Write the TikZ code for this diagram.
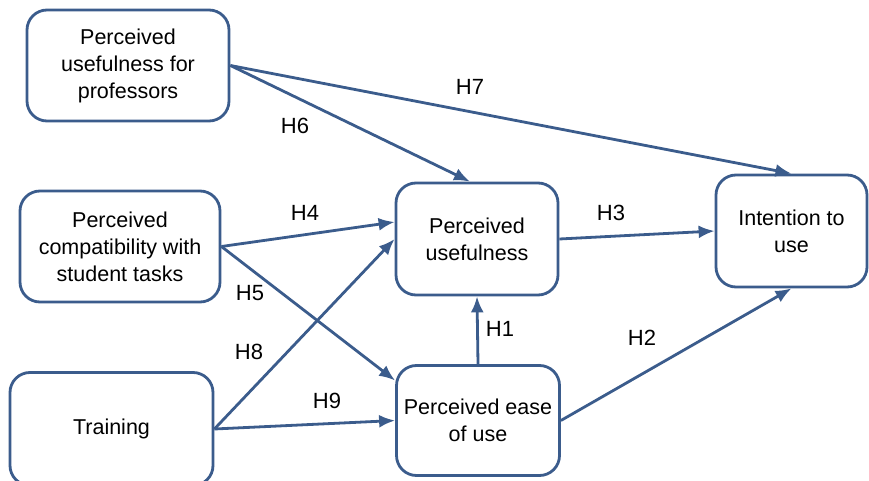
\documentclass[tikz,border=0pt]{standalone}
\usepackage{fontspec}
\setmainfont{Liberation Sans}
\usetikzlibrary{calc}
\usetikzlibrary{arrows.meta}
\definecolor{tamblue}{RGB}{59,92,140}
\tikzset{>=Latex}
\tikzstyle{arw}=[-{Latex[length=16pt,width=13pt]},draw=tamblue,line width=2.8pt]
\tikzstyle{box}=[draw=tamblue,line width=2.8pt,rounded corners=20pt,align=center,inner sep=0pt,font=\fontsize{21.5}{27}\selectfont]
\tikzstyle{lbl}=[font=\fontsize{22}{26}\selectfont]

\begin{document}
\begin{tikzpicture}[x=1pt,y=-1pt]
    \useasboundingbox (0,0) rectangle (869,481);
    \node[box,minimum width=202pt,minimum height=111pt] (prof) at (128,65.5) {Perceived\\usefulness for\\professors};
    \node[box,minimum width=200pt,minimum height=111pt] (compat) at (120,246.5) {Perceived\\compatibility with\\student tasks};
    \node[box,minimum width=203pt,minimum height=113pt] (train) at (111.5,429) {Training};
    \node[box,minimum width=162pt,minimum height=112pt] (pu) at (477,239) {Perceived\\usefulness};
    \node[box,minimum width=163pt,minimum height=110pt] (peou) at (478,420.5) {Perceived ease\\of use};
    \node[box,minimum width=151pt,minimum height=112pt] (intent) at (791.5,231) {Intention to\\use};

    \draw[arw] (prof.east) -- (intent.north);
    \draw[arw] (prof.east) -- ($(pu.north)+(-7,0)$);
    \draw[arw] (compat.east) -- ($(pu.west)+(0,-17)$);
    \draw[arw] (compat.east) -- ($(peou.west)+(0,-40)$);
    \draw[arw] (train.east) -- (pu.west);
    \draw[arw] (train.east) -- (peou.west);
    \draw[arw] (peou.north) -- (pu.south);
    \draw[arw] (pu.east) -- (intent.west);
    \draw[arw] (peou.east) -- (intent.south);

    % hypothesis labels
    \node[lbl] (h7) at (470,87) {H7};
    \node[lbl] (h6) at (295,126) {H6};
    \node[lbl] (h4) at (305,213) {H4};
    \node[lbl] (h5) at (250,293) {H5};
    \node[lbl] (h8) at (249,352) {H8};
    \node[lbl] (h9) at (327,401) {H9};
    \node[lbl] (h3) at (611,213) {H3};
    \node[lbl] (h1) at (500,329) {H1};
    \node[lbl] (h2) at (642,338) {H2};
\end{tikzpicture}
\end{document}
